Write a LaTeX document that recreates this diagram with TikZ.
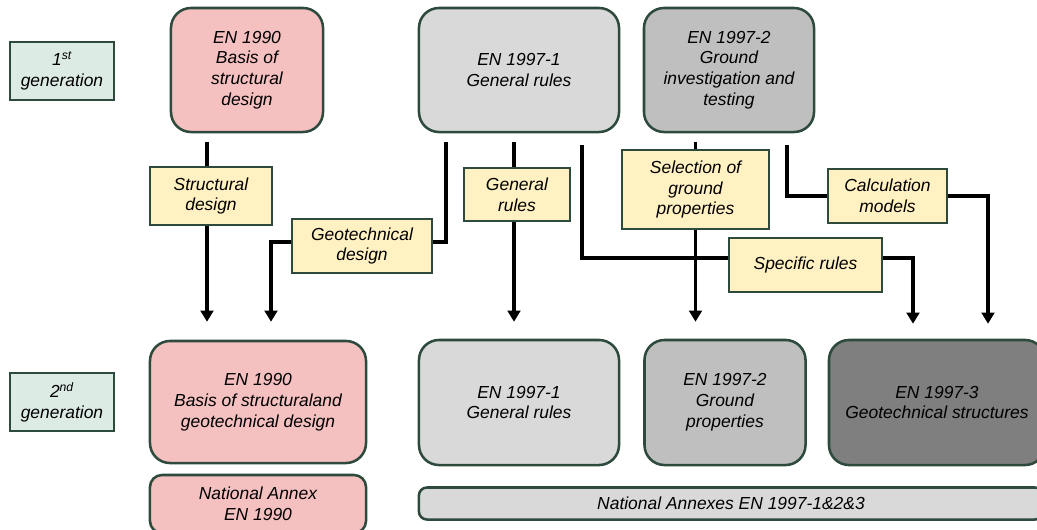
\documentclass[tikz,border=0pt]{standalone}
\usepackage{fontspec}
\setmainfont{Liberation Sans}
\usepackage{xcolor}
\usetikzlibrary{arrows.meta,calc}

\definecolor{boxline}{HTML}{2D4A3C}
\definecolor{pinkfill}{HTML}{F5C0C0}
\definecolor{mintfill}{HTML}{DDEBE5}
\definecolor{lightfill}{HTML}{D9D9D9}
\definecolor{midfill}{HTML}{BFBFBF}
\definecolor{darkfill}{HTML}{7F7F7F}
\definecolor{yellowfill}{HTML}{FFF1C2}

\tikzset{
  txt/.style={align=center, font=\itshape\fontsize{12.4}{14.8}\selectfont, inner sep=0pt},
  genbox/.style={txt, draw=boxline, line width=1.8pt, fill=mintfill, minimum width=2.6cm, minimum height=1.45cm},
  docbox/.style={txt, draw=boxline, line width=1.8pt, rounded corners=0.5cm},
  topicbox/.style={txt, draw=boxline, line width=1.6pt, fill=yellowfill},
  link/.style={line width=2.6pt},
  linkarrow/.style={line width=2.6pt, -{Triangle[length=0.28cm,width=0.32cm]}},
}

\begin{document}
\begin{tikzpicture}[x=0.025cm, y=-0.025cm]
  \clip (0,0) rectangle (1037,529);

  % generations
  \node[genbox] (gen1) at (62,71) {1\textsuperscript{st}\\generation};
  \node[genbox] (gen2) at (62,402) {2\textsuperscript{nd}\\generation};

  % first generation
  \node[docbox, fill=pinkfill, minimum width=3.8cm, minimum height=3.1cm] (en1990a) at (247,70) {EN 1990\\Basis of\\structural\\design};
  \node[docbox, fill=lightfill, minimum width=5cm, minimum height=3.1cm] (en19971a) at (519,70) {EN 1997-1\\General rules};
  \node[docbox, fill=midfill, minimum width=4.25cm, minimum height=3.1cm] (en19972a) at (729,70) {EN 1997-2\\Ground\\investigation and\\testing};

  % second generation
  \node[docbox, fill=pinkfill, minimum width=5.4cm, minimum height=3.05cm] (en1990b) at (258,402) {EN 1990\\Basis of structuraland\\geotechnical design};
  \node[docbox, fill=pinkfill, rounded corners=0.3cm, minimum width=5.4cm, minimum height=1.45cm] (na1990) at (258,504) {National Annex\\EN 1990};
  \node[docbox, fill=lightfill, minimum width=5cm, minimum height=3.125cm] (en19971b) at (519,402.5) {EN 1997-1\\General rules};
  \node[docbox, fill=midfill, minimum width=4.025cm, minimum height=3.125cm] (en19972b) at (725,402.5) {EN 1997-2\\Ground\\properties};
  \node[docbox, fill=darkfill, minimum width=5.4cm, minimum height=3.125cm] (en19973b) at (937,402.5) {EN 1997-3\\Geotechnical structures};
  \node[docbox, fill=lightfill, rounded corners=0.2cm, minimum width=15.6cm, minimum height=0.8cm] (naall) at (731,503.5) {National Annexes EN 1997-1\&2\&3};

  % topics
  \node[topicbox, minimum width=3.05cm, minimum height=1.45cm] (sd) at (211,196) {Structural\\design};
  \node[topicbox, minimum width=3.5cm, minimum height=1.35cm] (gd) at (362,246) {Geotechnical\\design};
  \node[topicbox, minimum width=2.65cm, minimum height=1.325cm] (gr) at (517,194.5) {General\\rules};
  \node[topicbox, minimum width=3.675cm, minimum height=1.975cm] (sgp) at (695.5,189.5) {Selection of\\ground\\properties};
  \node[topicbox, minimum width=3.825cm, minimum height=1.35cm] (sr) at (805.5,265) {Specific rules};
  \node[topicbox, minimum width=2.975cm, minimum height=1.35cm] (cm) at (887.5,196) {Calculation\\models};

  % links
  \draw[link] ($(en1990a.south)+(-40,9)$) -- ($(sd.north)+(-4,0)$);
  \draw[linkarrow] ($(sd.south)+(-4,0)$) -- ($(en1990b.north)+(-51,-18)$);

  \draw[link] ($(en19971a.south)+(-73,9)$) |- ($(gd.east)+(0,-4)$);
  \draw[linkarrow] ($(gd.west)+(0,-4)$) -| ($(en1990b.north)+(13,-18)$);

  \draw[link] ($(en19971a.south)+(-5,9)$) -- ($(gr.north)+(-3,0)$);
  \draw[linkarrow] ($(gr.south)+(-3,0)$) -- ($(en19971b.north)+(-5,-17)$);

  \draw[link] ($(en19971a.south)+(63,12)$) |- ($(sr.west)+(0,-7)$);
  \draw[linkarrow] ($(sr.east)+(0,-7)$) -| ($(en19973b.north)+(-24,-15)$);

  \draw[link] ($(en19972a.south -| sgp.north)+(0,9)$) -- (sgp.north);
  \draw[linkarrow] (sgp.south) -- ($(sgp.south |- en19972b.north)+(0,-17)$);

  \draw[link] ($(en19972a.south)+(58,12)$) |- (cm.west);
  \draw[linkarrow] (cm.east) -| ($(en19973b.north)+(51,-15)$);
\end{tikzpicture}
\end{document}
